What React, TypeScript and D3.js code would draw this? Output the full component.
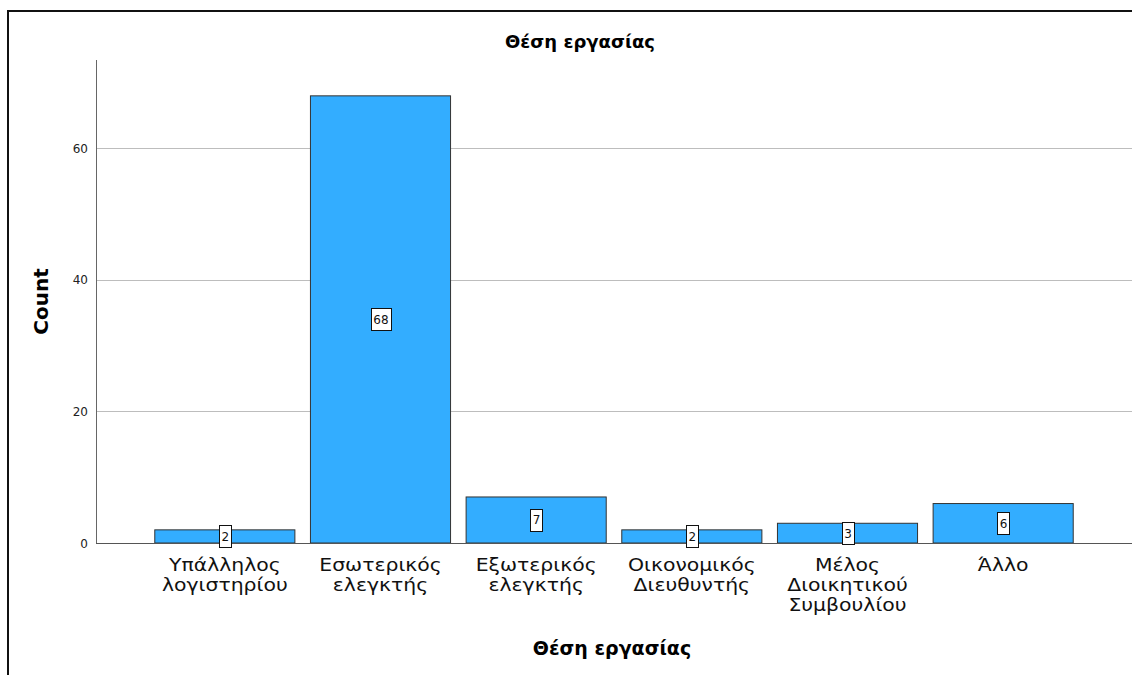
import React from "react";
import * as d3 from "d3";

const categories: string[][] = [
  ["Υπάλληλος", "λογιστηρίου"],
  ["Εσωτερικός", "ελεγκτής"],
  ["Εξωτερικός", "ελεγκτής"],
  ["Οικονομικός", "Διευθυντής"],
  ["Μέλος", "Διοικητικού", "Συμβουλίου"],
  ["Άλλο"],
];
const counts: number[] = [2, 68, 7, 2, 3, 6];
const yTicks: number[] = [0, 20, 40, 60];
const chartTitle = "Θέση εργασίας";
const xTitle = "Θέση εργασίας";
const yTitle = "Count";

const W = 1132;
const H = 675;
const plot = { left: 96, top: 60, right: 1132, bottom: 543 };
const font = "DejaVu Sans, Verdana, sans-serif";

export default function App() {
  const keys = categories.map((c) => c.join(" "));
  const x = d3
    .scaleBand<string>()
    .domain(keys)
    .range([147, 1081])
    .paddingInner(0.1)
    .paddingOuter(0.05);
  const y = d3.scaleLinear().domain([0, 73.45]).range([plot.bottom, plot.top]);

  return (
    <svg
      width={W}
      height={H}
      style={{ position: "absolute", left: 0, top: 0, background: "#fff" }}
      fontFamily={font}
    >
      {/* outer frame */}
      <rect x={8} y={11} width={W + 10} height={H + 10} fill="none" stroke="#111" strokeWidth={2} />

      <text x={580} y={48} textAnchor="middle" fontSize={18} fontWeight="bold" fill="#000">
        {chartTitle}
      </text>

      {/* gridlines */}
      {yTicks
        .filter((t) => t > 0)
        .map((t) => (
          <line
            key={t}
            x1={plot.left}
            x2={plot.right}
            y1={Math.round(y(t)) + 0.5}
            y2={Math.round(y(t)) + 0.5}
            stroke="#bdbdbd"
            strokeWidth={1}
          />
        ))}

      {/* bars */}
      {counts.map((v, i) => {
        const bx = x(keys[i])!;
        return (
          <rect
            key={keys[i]}
            x={bx}
            y={y(v)}
            width={x.bandwidth()}
            height={y(0) - y(v)}
            fill="#33adff"
            stroke="#333"
            strokeWidth={1}
          />
        );
      })}

      {/* baseline and y axis */}
      <line x1={plot.left} x2={plot.right} y1={plot.bottom + 0.5} y2={plot.bottom + 0.5} stroke="#555" strokeWidth={1} />
      <line x1={plot.left + 0.5} x2={plot.left + 0.5} y1={plot.top} y2={plot.bottom} stroke="#666" strokeWidth={1} />

      {/* y tick labels */}
      {yTicks.map((t) => (
        <text key={t} x={plot.left - 8} y={y(t) + 4.5} textAnchor="end" fontSize={12} fill="#222">
          {t}
        </text>
      ))}

      {/* value labels */}
      {counts.map((v, i) => {
        const cx = x(keys[i])! + x.bandwidth() / 2;
        const cy = (y(v) + y(0)) / 2;
        const label = String(v);
        const bw = label.length > 1 ? 20 : 12;
        const bh = 22;
        return (
          <g key={keys[i]}>
            <rect
              x={Math.round(cx - bw / 2) + 0.5}
              y={Math.round(cy - bh / 2) + 0.5}
              width={bw}
              height={bh}
              fill="#fff"
              stroke="#111"
              strokeWidth={1}
            />
            <text x={cx + 0.5} y={cy + 4.5} textAnchor="middle" fontSize={12} fill="#111">
              {label}
            </text>
          </g>
        );
      })}

      {/* category labels, one text per line */}
      {categories.map((lines, i) => {
        const cx = x(keys[i])! + x.bandwidth() / 2;
        return (
          <g key={keys[i]}>
            {lines.map((ln, j) => (
              <text
                key={j}
                transform={`translate(${cx}, ${571 + j * 20}) scale(1.2, 1)`}
                textAnchor="middle"
                fontSize={17}
                fill="#111"
              >
                {ln}
              </text>
            ))}
          </g>
        );
      })}

      <text x={612} y={655} textAnchor="middle" fontSize={19} fontWeight="bold" fill="#000">
        {xTitle}
      </text>
      <text
        transform={`translate(48, ${(plot.top + plot.bottom) / 2}) rotate(-90)`}
        textAnchor="middle"
        fontSize={20}
        fontWeight="bold"
        fill="#000"
      >
        {yTitle}
      </text>
    </svg>
  );
}
